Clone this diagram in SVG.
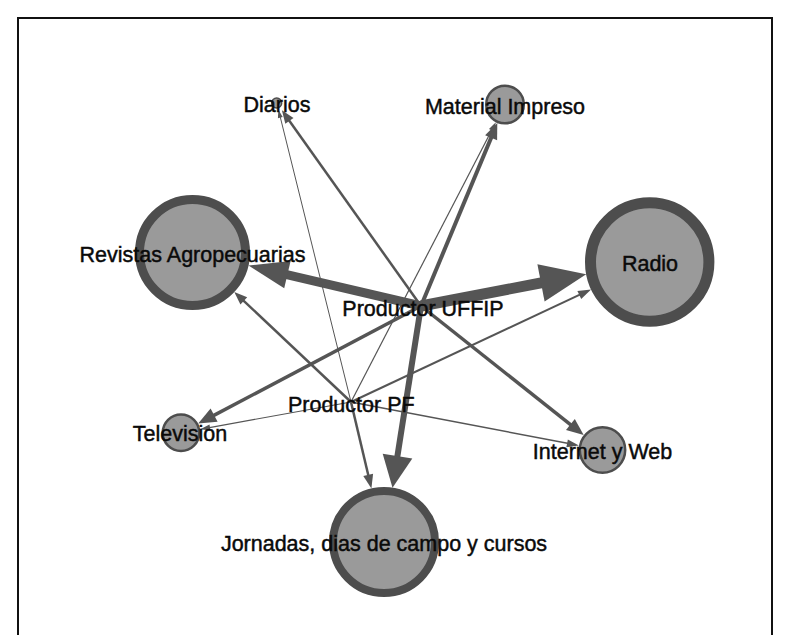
<svg xmlns="http://www.w3.org/2000/svg" width="789" height="635" viewBox="0 0 789 635">
<style>
.bg{fill:#ffffff}
.frame{fill:none;stroke:#111111;stroke-width:2}
.e{stroke:#555555;fill:none;stroke-linecap:butt}
.head{fill:#555555}
.node{fill:#9a9a9a;stroke:#4d4d4d}
.lbl{font-family:"Liberation Sans",Arial,sans-serif;font-size:21.5px;fill:#0a0a0a;stroke:#0a0a0a;stroke-width:0.45;text-anchor:middle}
</style>
<rect class="bg" x="0" y="0" width="789" height="635"/>
<path class="frame" d="M18,640 L18,18 L772,18 L772,640"/>
<g id="connectors">
  <!-- Productor UFFIP edges -->
  <line class="e" x1="421" y1="306" x2="283.5" y2="273.8" stroke-width="9"/>
  <polygon class="head" points="248.5,265.6 290.6,261.1 284.2,288.3"/>
  <line class="e" x1="421" y1="306" x2="545" y2="282.1" stroke-width="11"/>
  <polygon class="head" points="586.2,274.2 544.6,301.6 537.4,264.2"/>
  <line class="e" x1="421" y1="306" x2="396.8" y2="460" stroke-width="6"/>
  <polygon class="head" points="392.5,487.7 412.3,458.4 382.7,453.8"/>
  <line class="e" x1="421" y1="306" x2="492.3" y2="135" stroke-width="4"/>
  <polygon class="head" points="497.3,123 497.1,140.3 485.1,135.3"/>
  <line class="e" x1="421" y1="306" x2="287.7" y2="118.5" stroke-width="2.5"/>
  <polygon class="head" points="281.9,110.3 293.5,118 285.3,123.8"/>
  <line class="e" x1="421" y1="306" x2="572.7" y2="426.4" stroke-width="3.5"/>
  <polygon class="head" points="583.7,435.1 566,430 574.8,419"/>
  <line class="e" x1="421" y1="306" x2="211.5" y2="416.6" stroke-width="3.5"/>
  <polygon class="head" points="198.2,423.6 210.6,408.6 217.6,421.8"/>
  <!-- Productor PF edges -->
  <line class="e" x1="351" y1="402" x2="241.6" y2="298.8" stroke-width="2.5"/>
  <polygon class="head" points="234.3,291.9 247.2,297.2 240.4,304.4"/>
  <line class="e" x1="351" y1="402" x2="368.9" y2="477.8" stroke-width="2.5"/>
  <polygon class="head" points="371.4,488.5 363.3,476 373.1,473.8"/>
  <line class="e" x1="351" y1="402" x2="279.9" y2="115.6" stroke-width="1"/>
  <polygon class="head" points="278.4,109.8 282.7,117 277.9,118.2"/>
  <line class="e" x1="351" y1="402" x2="492.6" y2="128.5" stroke-width="1.2"/>
  <polygon class="head" points="495.8,122.3 494.4,131.7 489,128.9"/>
  <line class="e" x1="351" y1="402" x2="582" y2="293.7" stroke-width="2"/>
  <polygon class="head" points="591.1,289.5 581.2,299.1 577.4,290.9"/>
  <line class="e" x1="351" y1="402" x2="208.1" y2="427.8" stroke-width="1.2"/>
  <polygon class="head" points="200.2,429.2 209.5,424.5 210.5,430.4"/>
  <line class="e" x1="351" y1="402" x2="570.1" y2="443.8" stroke-width="1.5"/>
  <polygon class="head" points="578.9,445.5 566.35,447.2 567.85,439.4"/>
</g>
<g id="node-diarios">
  <circle class="node" cx="276.7" cy="103" r="5" stroke-width="1.5"/>
  <text class="lbl" x="277" y="111.5">Diarios</text>
</g>
<g id="node-material-impreso">
  <circle class="node" cx="505" cy="104.5" r="18.8" stroke-width="2.5"/>
  <text class="lbl" x="505" y="113.5">Material Impreso</text>
</g>
<g id="node-revistas">
  <circle class="node" cx="192.5" cy="252.5" r="53" stroke-width="9"/>
  <text class="lbl" x="192.5" y="261.5">Revistas Agropecuarias</text>
</g>
<g id="node-radio">
  <circle class="node" cx="649.7" cy="262" r="59.2" stroke-width="11"/>
  <text class="lbl" x="650" y="270.5">Radio</text>
</g>
<g id="node-television">
  <circle class="node" cx="181" cy="432.7" r="18.3" stroke-width="2.5"/>
  <text class="lbl" x="180" y="440.5">Television</text>
</g>
<g id="node-internet">
  <circle class="node" cx="602.5" cy="450" r="22.7" stroke-width="2.5"/>
  <text class="lbl" x="602.5" y="459">Internet y Web</text>
</g>
<g id="node-jornadas">
  <circle class="node" cx="384" cy="542" r="51" stroke-width="8"/>
  <text class="lbl" x="384" y="551">Jornadas, dias de campo y cursos</text>
</g>
<g id="node-productor-uffip">
  <text class="lbl" x="423" y="316">Productor UFFIP</text>
</g>
<g id="node-productor-pf">
  <text class="lbl" x="351.3" y="411.5">Productor PF</text>
</g>
</svg>
